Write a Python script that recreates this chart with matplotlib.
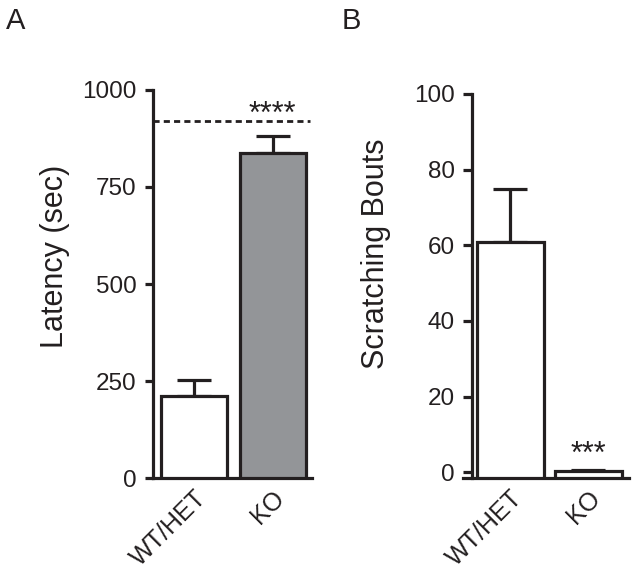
import matplotlib
matplotlib.use("Agg")
import matplotlib.pyplot as plt

plt.rcParams['font.family'] = ['Liberation Sans', 'DejaVu Sans']

categories = ["WT/HET", "KO"]
latency = [211, 838]
latency_err = [42, 43]
cutoff = 920
bouts = [60.8, 0.3]
bouts_err = [14.2, 0.4]

edge = "#231f20"
fillA = ["white", "#939598"]
fillB = ["white", "white"]

fig = plt.figure(figsize=(6.36, 5.78), dpi=100)
axA = fig.add_axes([0.2406, 0.1730, 0.25, 0.6713])
axB = fig.add_axes([0.7421, 0.1730, 0.2469, 0.6644])

lw = 2.3
tick_fs = 17.5

def style(ax, ticklen, ypad):
    for s in ["top", "right"]:
        ax.spines[s].set_visible(False)
    for s in ["left", "bottom"]:
        ax.spines[s].set_linewidth(lw)
        ax.spines[s].set_color(edge)
        ax.spines[s].set_capstyle('projecting')
    ax.tick_params(axis='y', direction='out', length=ticklen, width=lw, color=edge,
                   labelsize=tick_fs, pad=ypad, labelcolor=edge)
    ax.tick_params(axis='x', length=0, labelsize=18, pad=6, labelcolor=edge)
    ax.set_xticks(range(len(categories)))
    ax.set_xticklabels(categories, rotation=45, ha='right', rotation_mode='anchor')

x = list(range(len(categories)))

# Panel A
axA.bar(x, latency, width=0.84, color=fillA, edgecolor=edge, linewidth=lw, zorder=3)
axA.errorbar(x, latency, yerr=[[0, 0], latency_err], fmt='none', ecolor=edge,
             elinewidth=lw, capsize=12, capthick=lw, zorder=2)
axA.axhline(cutoff, xmax=0.99, color=edge, linestyle=(0, (2.2, 1.5)), linewidth=2.0, zorder=1)
axA.set_xlim(-0.522, 1.503)
axA.set_ylim(0, 1000)
axA.set_yticks([0, 250, 500, 750, 1000])
style(axA, 5.5, 6.5)
axA.set_ylabel("Latency (sec)", fontsize=22, color=edge)
axA.yaxis.set_label_coords(-0.522, 0.572)
axA.text(1, 936, "****", ha='center', va='center', fontsize=22, color=edge)

# Panel B
b0 = -1.5
axB.bar(x, [v - b0 for v in bouts], bottom=b0, width=0.86, color=fillB,
        edgecolor=edge, linewidth=lw, zorder=3)
axB.errorbar(x, bouts, yerr=[[0, 0], bouts_err], fmt='none', ecolor=edge,
             elinewidth=lw, capsize=12, capthick=lw, zorder=2)
axB.set_xlim(-0.494, 1.52)
axB.set_ylim(b0, 100)
axB.set_yticks([0, 20, 40, 60, 80, 100])
style(axB, 6.5, 6)
axB.spines['bottom'].set_bounds(-0.609, 1.52)
axB.set_ylabel("Scratching Bouts", fontsize=22, color=edge)
axB.yaxis.set_label_coords(-0.516, 0.583)
axB.text(1, 4.5, "***", ha='center', va='center', fontsize=22, color=edge)

fig.text(0.0094, 1 - 29 / 578, "A", fontsize=21, color=edge, va='baseline', ha='left')
fig.text(0.5377, 1 - 29 / 578, "B", fontsize=21, color=edge, va='baseline', ha='left')

fig.savefig("out.png", dpi=100)
